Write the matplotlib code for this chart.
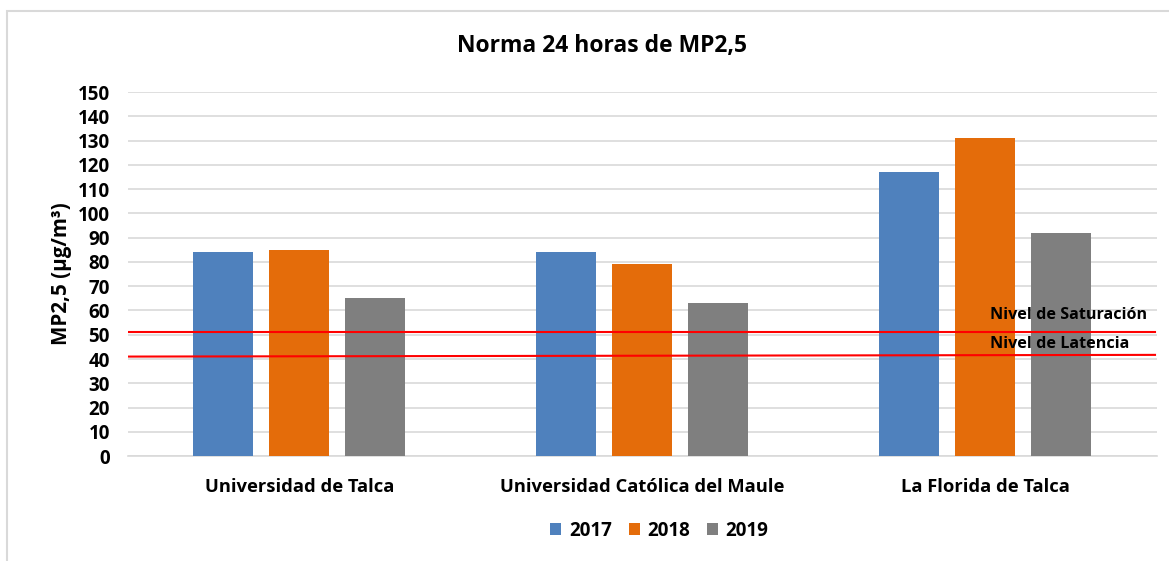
import matplotlib.pyplot as plt
import matplotlib.patches as mpatches
import numpy as np

plt.rcParams['font.family'] = ['Open Sans', 'DejaVu Sans']

# data
estaciones = ['Universidad de Talca', 'Universidad Católica del Maule', 'La Florida de Talca']
anios = ['2017', '2018', '2019']
v2017 = [84, 84, 117]
v2018 = [85, 79, 131]
v2019 = [65, 63, 92]
colores = ['#4f81bd', '#e46c0a', '#7f7f7f']

# reference levels (left end, right end)
saturacion = [51.3, 51.3]
latencia = [41.0, 41.7]

fig = plt.figure(figsize=(11.69, 5.61), dpi=100)
ax = fig.add_axes([0.1095, 0.187, 0.880, 0.649])

# light frame around the chart
fig.patches.append(mpatches.Rectangle((7 / 1169, -0.1), 1.2, 1.1 - 11 / 561,
                                      transform=fig.transFigure, fill=False,
                                      edgecolor='#d9d9d9', linewidth=1.5))

x = np.arange(len(estaciones))
w = 0.175
paso = 0.2216
for i, (vals, lab) in enumerate(zip([v2017, v2018, v2019], anios)):
    ax.bar(x + (i - 1) * paso, vals, width=w, color=colores[i], label=lab, zorder=3)

ax.plot([-0.5, 2.495], saturacion, color='#ff0000', lw=1.5, zorder=4)
ax.plot([-0.5, 2.495], latencia, color='#ff0000', lw=1.5, zorder=4)
ax.text(2.015, 58.3, 'Nivel de Saturación', fontsize=11.6, fontweight='bold', va='center', zorder=5)
ax.text(2.015, 46.3, 'Nivel de Latencia', fontsize=11.6, fontweight='bold', va='center', zorder=5)

ax.set_xlim(-0.5, 2.5)
ax.set_ylim(0, 150)
ax.set_yticks(np.arange(0, 151, 10))
ax.yaxis.grid(True, color='#d9d9d9', lw=1.2, zorder=0)
for s in ['top', 'right', 'left']:
    ax.spines[s].set_visible(False)
ax.spines['bottom'].set_color('#d9d9d9')
ax.spines['bottom'].set_linewidth(1.2)
ax.tick_params(axis='y', length=0, labelsize=13.5, pad=13)
ax.tick_params(axis='x', length=0, labelsize=13.2, pad=16)
ax.set_xticks(x)
ax.set_xticklabels(estaciones)
for t in ax.get_xticklabels() + ax.get_yticklabels():
    t.set_fontweight('bold')

ax.set_ylabel('MP2,5 (µg/m³)', fontsize=14.8, fontweight='bold', labelpad=4)
fig.text(0.515, 0.918, 'Norma 24 horas de MP2,5', ha='center', va='center',
         fontsize=16.5, fontweight='bold')

fig.legend(loc='center', bbox_to_anchor=(0.564, 0.054), ncol=3, frameon=False,
           prop={'size': 13.5, 'weight': 'bold'}, handlelength=0.6, handleheight=0.6,
           handletextpad=0.4, columnspacing=0.9)

fig.savefig('out.png', dpi=100)
